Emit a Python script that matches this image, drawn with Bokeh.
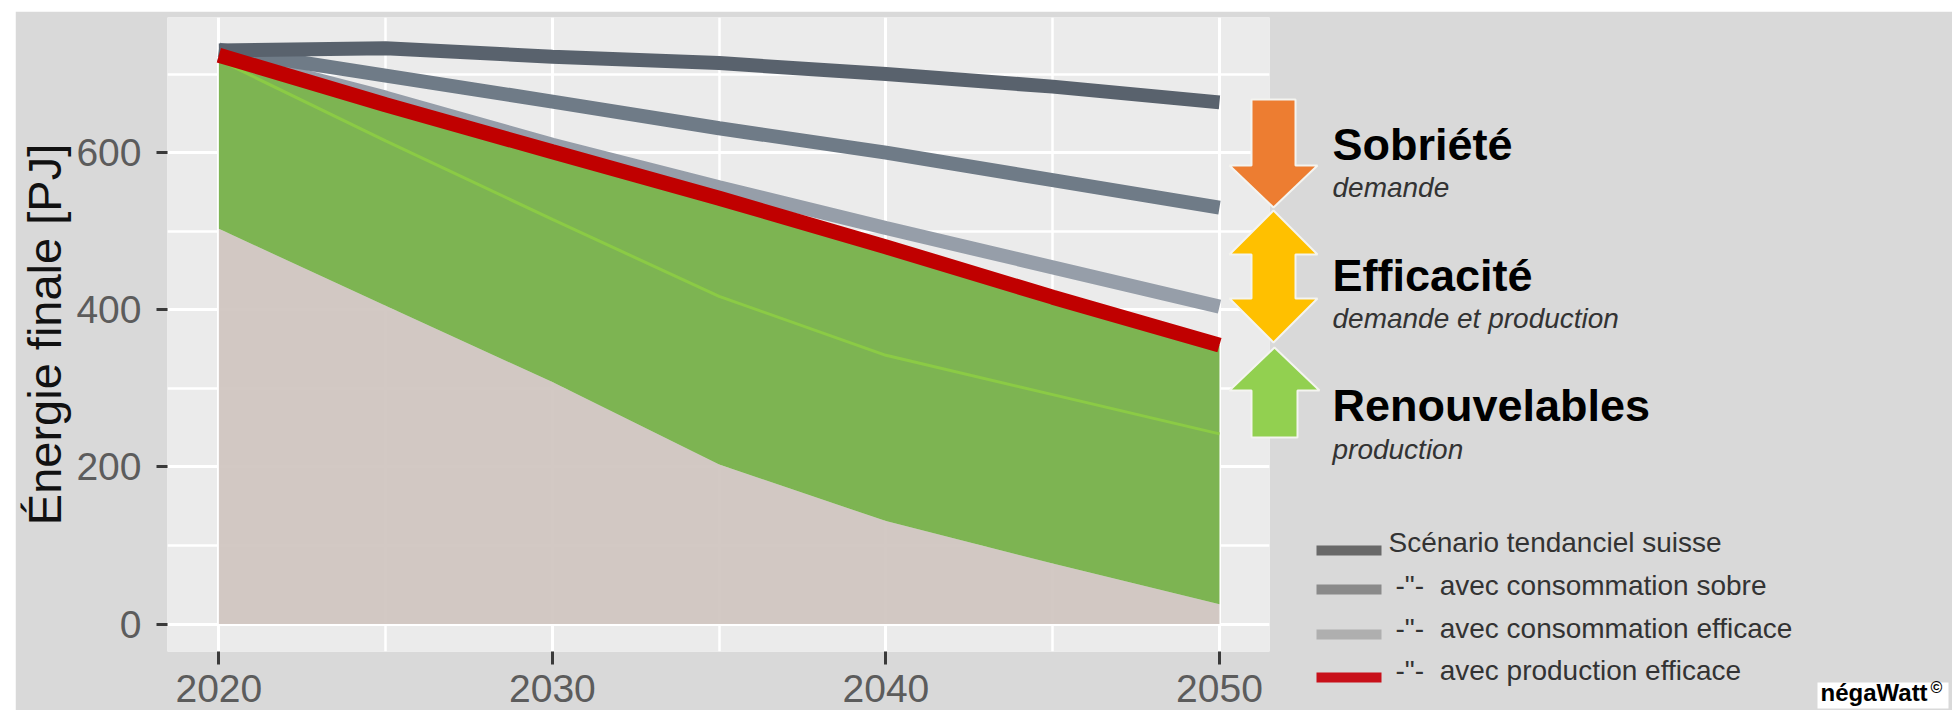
from bokeh.plotting import figure
from bokeh.embed import file_html
from bokeh.resources import INLINE
from bokeh.core.properties import value
from bokeh.models import FixedTicker, Range1d

years = [2020, 2025, 2030, 2035, 2040, 2045, 2050]
tendanciel = [730, 733, 722, 714, 700, 684, 664]
sobre = [731, 698, 665, 631, 600, 565, 530]
efficace = [725, 670, 610, 556, 504, 454, 404]
production = [724, 661, 601, 542, 480, 416, 355]
renouvelable_ligne = [718, 615, 515, 417, 342, 292, 242]
non_renouvelable = [503, 405, 308, 203, 131, 77, 25]
zero = [0, 0, 0, 0, 0, 0, 0]

y_ticks = [0, 200, 400, 600]
y_minor = [100, 300, 500, 700]
x_ticks = [2020, 2030, 2040, 2050]
x_minor = [2025, 2035, 2045]

legend_labels = ["Scénario tendanciel suisse", '-"-\u00a0\u00a0avec consommation sobre',
                 '-"-\u00a0\u00a0avec consommation efficace', '-"-\u00a0\u00a0avec production efficace']
legend_colors = ["#696969", "#8a8a8a", "#afafaf", "#c8101a"]

XMIN, XMAX = 2018.46, 2051.5
YMIN, YMAX = -35.0, 772.0

p = figure(width=1937, height=699, output_backend="svg", toolbar_location=None,
           x_range=Range1d(XMIN, XMAX), y_range=Range1d(YMIN, YMAX),
           frame_width=1102, frame_height=634,
           min_border_left=152, min_border_right=683, min_border_top=6, min_border_bottom=59,
           background_fill_color="#EBEBEB", border_fill_color="#D9D9D9")
p.styles = {"margin": "11px 0 0 15px"}
p.outline_line_color = None

p.xaxis.ticker = FixedTicker(ticks=x_ticks, minor_ticks=x_minor)
p.yaxis.ticker = FixedTicker(ticks=y_ticks, minor_ticks=y_minor)
for ax in (p.xaxis[0], p.yaxis[0]):
    ax.axis_line_color = None
    ax.major_tick_line_color = "#3a3a3a"
    ax.major_tick_line_width = 3
    ax.major_tick_in = 0
    ax.minor_tick_line_color = None
    ax.major_label_text_font = "Liberation Sans"
    ax.major_label_text_font_size = "39px"
    ax.major_label_text_color = "#5c5c5c"
p.xaxis.major_tick_out = 13
p.yaxis.major_tick_out = 11
p.xaxis.major_label_standoff = 10
p.yaxis.major_label_standoff = 15
p.yaxis.axis_label = "Énergie finale [PJ]"
p.yaxis.axis_label_text_font = "Liberation Sans"
p.yaxis.axis_label_text_font_size = "47px"
p.yaxis.axis_label_text_font_style = "normal"
p.yaxis.axis_label_text_color = "#111111"
p.yaxis.axis_label_standoff = 2

for g in (p.xgrid[0], p.ygrid[0]):
    g.grid_line_color = "white"
    g.grid_line_width = 3
    g.minor_grid_line_color = "white"
    g.minor_grid_line_width = 2.5

p.varea(years, zero, non_renouvelable, fill_color="#D1C6C1", fill_alpha=0.95)
p.varea(years, non_renouvelable, production, fill_color="#79B24C", fill_alpha=0.97)
p.line(years, renouvelable_ligne, line_color="#8BCB45", line_width=3)
p.line(years, efficace, line_color="#969EA9", line_width=14)
p.line(years, sobre, line_color="#6F7B87", line_width=14)
p.line(years, tendanciel, line_color="#59626D", line_width=14)
p.line(years, production, line_color="#C00000", line_width=15)

# transparent page-sized layer, in page pixels, for the arrows and the key
q = figure(width=1952, height=710, output_backend="svg", toolbar_location=None,
           x_range=Range1d(0, 1952), y_range=Range1d(710, 0),
           min_border=0, background_fill_color=None, border_fill_color=None)
q.styles = {"position": "absolute", "left": "0", "top": "0"}
q.outline_line_color = None
q.axis.visible = False
q.grid.visible = False


def arrow(pts, color):
    q.patch([a for a, _ in pts], [b for _, b in pts], fill_color=color,
            line_color="#F4F4F0", line_width=2)


arrow([(1251, 99), (1295, 99), (1295, 165), (1317, 165), (1273, 207), (1229, 165), (1251, 165)], "#ED7D31")
arrow([(1273, 210), (1317, 254), (1295, 254), (1295, 298), (1317, 298), (1273, 342),
       (1229, 298), (1251, 298), (1251, 254), (1229, 254)], "#FFC000")
arrow([(1274, 347), (1319, 390), (1297, 390), (1297, 437), (1251, 437), (1251, 390), (1229, 390)], "#92D050")


def label(px, py, text, size, style="normal", color="#111111"):
    # py is the wanted baseline; the SVG text is drawn about 0.4 em below the given y
    q.text([px], [py - 0.4 * size], text=[text], text_font=value("Liberation Sans"),
           text_font_size=value(f"{size}px"), text_font_style=style, text_color=color,
           text_baseline="alphabetic", text_align="left")


label(1332, 162, "Sobriété", 45, "bold", "black")
label(1332, 198, "demande", 28, "italic", "#333333")
label(1332, 293, "Efficacité", 45, "bold", "black")
label(1332, 329, "demande et production", 28, "italic", "#333333")
label(1332, 423, "Renouvelables", 45, "bold", "black")
label(1332, 460, "production", 28, "italic", "#333333")

swatch_y = [550, 589, 634, 677]
text_y = [553, 596, 639, 681]
text_x = [1388, 1395, 1395, 1395]
for sy, ty, tx, txt, col in zip(swatch_y, text_y, text_x, legend_labels, legend_colors):
    q.quad(left=[1316], right=[1381], top=[sy - 5], bottom=[sy + 5], fill_color=col, line_color=None)
    label(tx, ty, txt, 28, "normal", "#333333")

q.quad(left=[1817], right=[1948], top=[682], bottom=[708], fill_color="white", line_color=None)
label(1820, 702, "négaWatt", 24, "bold", "black")
label(1930, 693, "©", 16, "bold", "black")

open("out.html", "w").write(file_html((p, q), INLINE))
